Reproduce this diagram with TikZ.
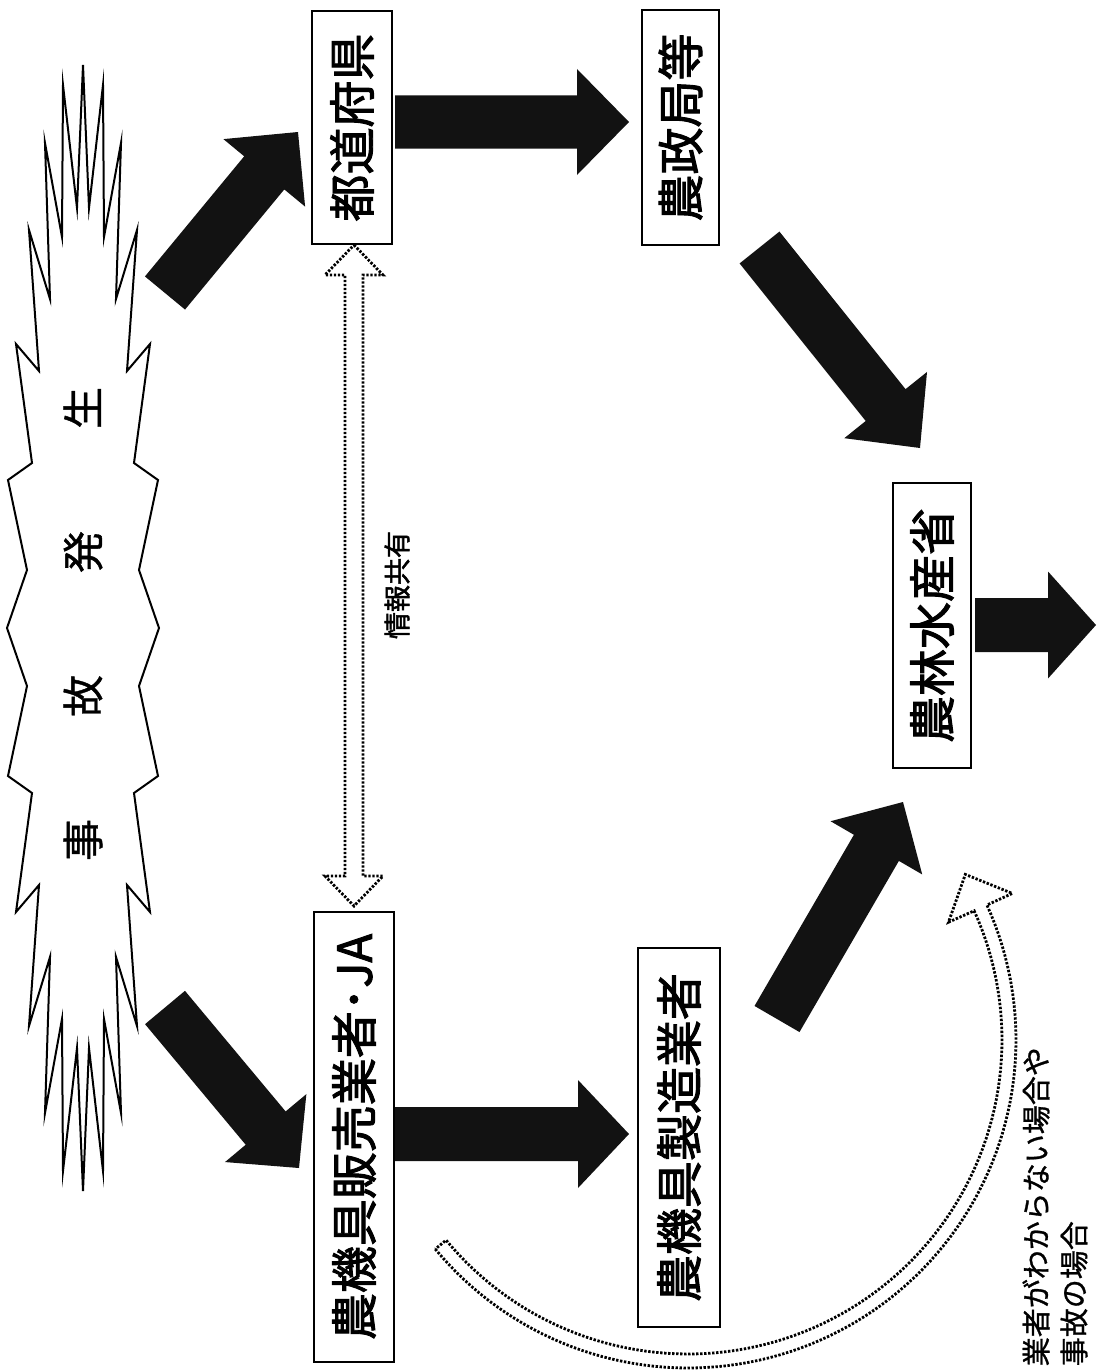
\documentclass[tikz,border=0pt]{standalone}
\usepackage{fontspec}
\setmainfont{Noto Sans CJK JP}
\newfontfamily\jpbold{Noto Sans CJK JP}[FakeBold=2]
\newfontfamily\jpmed{Noto Sans CJK JP}[FakeBold=1]
\usetikzlibrary{calc}
\tikzset{
  box/.style={draw=black, line width=1.6pt, fill=white, rotate=90, inner sep=0pt,
    font=\jpbold\fontsize{47}{50}\selectfont, text=black},
  fatfill/.style={fill=black!93},
  dots/.style={draw=black, line width=2.8pt, dash pattern=on 2.4pt off 1.6pt, fill=white},
  burst/.style={draw=black, line width=2pt, fill=white, line join=miter, miter limit=20},
  label/.style={rotate=90, inner sep=0pt, text=black},
}
\newcommand{\fatarrow}[5]{%
  \coordinate (fa-h) at ($(#2)!#5!(#1)$);
  \fill[fatfill] ($(#1)!#3!90:(#2)$) -- ($(fa-h)!#3!-90:(#1)$) -- ($(fa-h)!#4!-90:(#1)$)
    -- (#2) -- ($(fa-h)!#4!90:(#1)$) -- ($(fa-h)!#3!90:(#1)$) -- ($(#1)!#3!-90:(#2)$) -- cycle;}
\begin{document}
\begin{tikzpicture}[x=1pt,y=-1pt]
\useasboundingbox (0,0) rectangle (1096,1370);
\fill[white] (0,0) rectangle (1096,1370);

% starburst
\draw[burst] (83,65) -- (77,208) -- (63,85) -- (62,237) -- (45,143) -- (50,299) -- (29,230)
  -- (39,371) -- (16,344) -- (32,463) -- (8,480) -- (27,570) -- (7,628) -- (27,686) -- (8,776)
  -- (32,793) -- (16,912) -- (39,885) -- (29,1026) -- (50,957) -- (45,1113) -- (62,1019)
  -- (63,1171) -- (77,1048) -- (83,1191)
  -- (89,1048) -- (103,1171) -- (104,1019) -- (121,1113) -- (116,957) -- (137,1026) -- (127,885)
  -- (150,912) -- (134,793) -- (158,776) -- (139,686) -- (159,628) -- (139,570) -- (158,480)
  -- (134,463) -- (150,344) -- (127,371) -- (137,230) -- (116,299) -- (121,143) -- (104,237)
  -- (103,85) -- (89,208) -- cycle;
\node[label, font=\jpmed\fontsize{42}{44}\selectfont] (accident) at (83,624)
  {事\hspace{102pt}故\hspace{102pt}発\hspace{102pt}生};

% boxes
\node[box, minimum width=233pt, minimum height=80pt] (pref) at (352,127.5) {都道府県};
\node[box, minimum width=235pt, minimum height=77pt] (nosei) at (680.5,127.5) {農政局等};
\node[box, minimum width=450pt, minimum height=80pt] (hanbai) at (354,1137) {農機具販売業者･JA};
\node[box, minimum width=379pt, minimum height=82pt] (seizo) at (679,1137.5) {農機具製造業者};
\node[box, minimum width=285pt, minimum height=78pt] (maff) at (932,625.5) {農林水産省};

% fat arrows
\coordinate (a1s) at (165,293);   \coordinate (a1e) at (298,132);
\coordinate (a2s) at (395,122);   \coordinate (a2e) at (629,122);
\coordinate (a3s) at (759.5,247.5); \coordinate (a3e) at (920,448);
\coordinate (a4s) at (165,1007.5); \coordinate (a4e) at (299,1168);
\coordinate (a5s) at (395,1134);  \coordinate (a5e) at (629,1134);
\coordinate (a6s) at (777,1019);  \coordinate (a6e) at (903,802);
\coordinate (a7s) at (975,625);   \coordinate (a7e) at (1096,625);
\fatarrow{a1s}{a1e}{26pt}{53pt}{53pt}
\fatarrow{a2s}{a2e}{26.5pt}{53pt}{52pt}
\fatarrow{a3s}{a3e}{25.5pt}{53pt}{55pt}
\fatarrow{a4s}{a4e}{26pt}{53pt}{52pt}
\fatarrow{a5s}{a5e}{27pt}{54pt}{51pt}
\fatarrow{a6s}{a6e}{26pt}{53pt}{53pt}
\fatarrow{a7s}{a7e}{27pt}{53.5pt}{48pt}

% information sharing double arrow (hollow, dotted)
\draw[dots] (354,245) -- (383,275) -- (363,275) -- (363,876) -- (383,876) -- (354,906)
  -- (325,876) -- (345,876) -- (345,275) -- (325,275) -- cycle;
\node[label, font=\jpbold\fontsize{27}{29}\selectfont] (info) at (397,585) {情報共有};

% curved hollow dotted arrow
\draw[dots] plot[domain=140.4:-24.3, samples=90] ({688+328*cos(\x)},{1040+328*sin(\x)})
  -- (1012.3,893.4) -- (965.3,874.4) -- (948.5,922.2)
  -- plot[domain=-24.3:140.4, samples=90] ({688+314*cos(\x)},{1040+314*sin(\x)}) -- cycle;

% note text
\node[label, anchor=east, font=\jpmed\fontsize{29}{31}\selectfont] (note1) at (1036,1047) {業者がわからない場合や};
\node[label, anchor=east, font=\jpmed\fontsize{29}{31}\selectfont] (note2) at (1074,1221) {事故の場合};
\end{tikzpicture}
\end{document}
